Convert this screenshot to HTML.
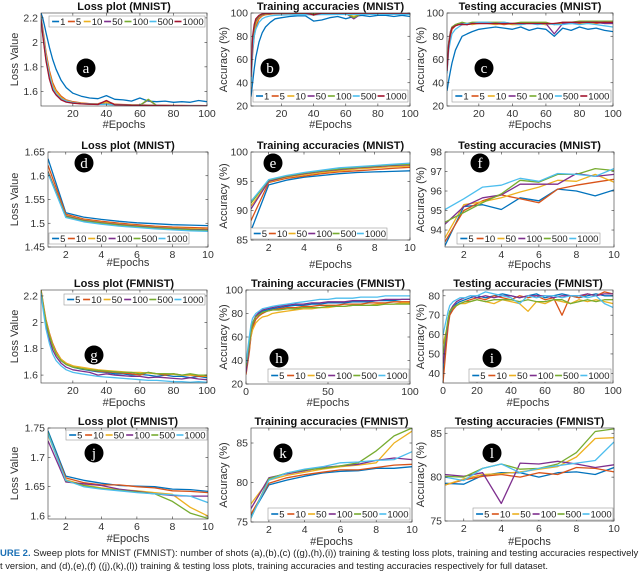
<!DOCTYPE html>
<html><head><meta charset="utf-8">
<style>
html,body{margin:0;padding:0;background:#fff;width:640px;height:573px;overflow:hidden}
svg{display:block}
.t{font-family:"Liberation Sans Narrow","Liberation Sans",sans-serif}
</style></head>
<body>
<svg id="fig" width="640" height="573" viewBox="0 0 640 573">
<text class="t" x="0" y="556" font-size="9.6" fill="#222" textLength="652" lengthAdjust="spacingAndGlyphs"><tspan fill="#1a6fb5" font-weight="bold">URE 2.</tspan>  Sweep plots for MNIST (FMNIST): number of shots (a),(b),(c) ((g),(h),(i)) training &amp; testing loss plots, training and testing accuracies respectively for</text>
<text class="t" x="0" y="569" font-size="9.6" fill="#222" textLength="548" lengthAdjust="spacingAndGlyphs">t version, and (d),(e),(f) ((j),(k),(l)) training &amp; testing loss plots, training accuracies and testing accuracies respectively for full dataset.</text>
</svg>
<script>
// ---- shared data ----
const colors7 = ["#0072BD","#D95319","#EDB120","#7E2F8E","#77AC30","#4DBEEE","#A2142F"];
const labels7 = ["1","5","10","50","100","500","1000"];
const labels6 = ["5","10","50","100","500","1000"];
const epochs100 = [1,2,3,4,6,8,10,13,16,20,25,30,35,40,45,50,55,60,65,70,75,80,85,90,95,100];
const epochs100z = [0,2,3,4,6,8,10,13,16,20,25,30,35,40,45,50,55,60,65,70,75,80,85,90,95,100];
const epochs10 = [1,2,3,4,5,6,7,8,9,10];

// a: loss MNIST
const aSeries = [
[2.24,2.2,2.14,2.08,1.96,1.86,1.78,1.69,1.63,1.585,1.56,1.545,1.54,1.565,1.535,1.53,1.52,1.545,1.52,1.515,1.52,1.51,1.515,1.51,1.525,1.515],
[2.22,2.12,2.02,1.92,1.77,1.67,1.61,1.56,1.53,1.515,1.505,1.5,1.498,1.52,1.495,1.492,1.49,1.49,1.488,1.487,1.486,1.485,1.485,1.484,1.484,1.483],
[2.21,2.1,2.0,1.9,1.75,1.65,1.6,1.55,1.525,1.51,1.502,1.498,1.495,1.51,1.492,1.49,1.489,1.487,1.486,1.485,1.484,1.484,1.483,1.483,1.482,1.482],
[2.2,2.08,1.97,1.87,1.72,1.63,1.58,1.54,1.52,1.507,1.5,1.496,1.494,1.497,1.491,1.489,1.487,1.486,1.53,1.485,1.484,1.483,1.483,1.482,1.482,1.482],
[2.2,2.07,1.96,1.86,1.71,1.62,1.575,1.535,1.515,1.505,1.499,1.495,1.493,1.495,1.49,1.488,1.487,1.486,1.535,1.484,1.483,1.483,1.482,1.482,1.481,1.481],
[2.21,2.09,1.98,1.88,1.73,1.63,1.58,1.54,1.52,1.508,1.5,1.497,1.494,1.493,1.49,1.488,1.487,1.486,1.485,1.484,1.483,1.483,1.482,1.482,1.481,1.481],
[2.19,2.06,1.95,1.85,1.70,1.61,1.57,1.53,1.512,1.503,1.498,1.495,1.492,1.525,1.49,1.488,1.486,1.485,1.484,1.484,1.483,1.482,1.482,1.481,1.481,1.481]];
// b: train acc MNIST
const bSeries = [
[28,40,52,62,75,83,88,92,95,96,97,97.5,97.5,93,94,96,97,95,97,98,97,98,98,97,98,97],
[35,65,80,88,95,97.5,98.5,99,99.5,99.5,99.5,99.5,99.5,98,99.5,99.5,99.5,99.5,99.6,99.6,99.6,99.6,99.6,99.6,99.6,99.6],
[38,70,84,91,96,98,99,99.3,99.5,99.6,99.6,99.6,99.6,99,99.6,99.6,99.6,99.6,97,99.6,99.6,99.6,99.7,99.7,99.7,99.7],
[40,75,87,93,97,98.5,99.2,99.5,99.6,99.6,99.7,99.7,99.7,99.7,99.7,99.7,99.7,99.7,95,99.7,99.7,99.7,99.7,99.7,99.7,99.7],
[42,77,88,94,97.5,99,99.4,99.6,99.7,99.7,99.7,99.7,99.7,99.7,99.7,99.7,99.7,99.7,96,99.7,99.7,99.7,99.7,99.7,99.7,99.7],
[36,68,80,86,92,95,96.5,97.5,98,98.2,98.4,98.5,98.5,98.5,98.6,98.6,98.7,98.7,98.7,98.8,98.8,98.8,98.9,98.9,98.9,98.9],
[45,80,90,95,98,99.3,99.6,99.7,99.8,99.8,99.8,99.8,99.8,98.5,99.8,99.8,99.8,99.8,99.8,99.8,99.8,99.8,99.8,99.8,99.8,99.8]];
// c: test acc MNIST
const cSeries = [
[33,42,50,57,68,74,80,82,84,86,87,88,87,86,88,85,87,86,80,87,85,88,86,87,85,84],
[50,70,80,86,89,90,91,90,91,91,91.5,91,90,91,91,91,91,90,91,91,92,91,92,91,92,91],
[52,72,82,87,90,91,91,91,90,91,91,90,91,90,90,91,91,90,91,91,91,92,91,92,91,91],
[55,75,84,88,90,91,91,90,91,91,91,91,91,91,91,91,91,91,82,91,91,92,92,92,91,91],
[54,74,83,88,90,91,92,91,92,92,92,92,92,91,92,92,92,92,90,92,92,93,93,93,93,93],
[48,68,76,82,86,88,90,91,91,92,92,91,92,91,90,91,90,91,90,90,91,90,91,90,89,88],
[50,72,82,87,89,90,90,90,91,91,91,91,91,91,91,91,91,91,91,92,92,92,92,92,92,92]];
// d
const dSeries = [
[1.636,1.522,1.513,1.508,1.504,1.501,1.499,1.497,1.496,1.495],
[1.622,1.519,1.509,1.504,1.5,1.497,1.494,1.492,1.491,1.49],
[1.61,1.516,1.507,1.502,1.498,1.495,1.492,1.49,1.489,1.487],
[1.608,1.515,1.506,1.501,1.497,1.494,1.491,1.489,1.487,1.486],
[1.606,1.514,1.505,1.5,1.496,1.493,1.49,1.488,1.486,1.485],
[1.605,1.512,1.503,1.498,1.494,1.491,1.488,1.486,1.484,1.483]];
// e
const eSeries = [
[86.6,94.4,95.2,95.7,96.0,96.3,96.5,96.6,96.7,96.8],
[88.3,94.8,95.5,95.9,96.3,96.6,96.8,97.0,97.2,97.4],
[90.8,94.9,95.7,96.1,96.5,96.8,97.1,97.3,97.5,97.6],
[90.3,95.0,95.8,96.3,96.7,97.0,97.3,97.5,97.7,97.8],
[91.3,95.2,95.9,96.4,96.8,97.1,97.4,97.6,97.8,97.9],
[91.6,95.3,96.0,96.5,96.9,97.3,97.5,97.7,97.9,98.1]];
// f
const fSeries = [
[93.2,95.2,95.3,95.05,95.65,95.5,96.1,96.0,95.75,96.05],
[93.4,95.0,95.5,95.8,95.6,95.4,96.1,96.3,96.45,96.6],
[93.6,95.3,95.45,95.65,95.95,96.2,96.55,96.5,96.85,96.45],
[94.3,95.2,95.65,95.8,96.35,96.35,96.35,96.9,96.75,96.85],
[94.4,94.9,95.4,95.85,96.55,96.45,96.85,96.85,97.15,97.05],
[95.05,95.6,96.2,96.3,96.65,96.5,96.9,96.85,96.75,97.15]];
// g
const gSeries = [
[2.24,2.15,2.07,2.0,1.9,1.82,1.77,1.71,1.68,1.66,1.645,1.635,1.625,1.62,1.61,1.61,1.6,1.605,1.6,1.59,1.6,1.59,1.59,1.58,1.59,1.58],
[2.25,2.17,2.09,2.02,1.92,1.84,1.78,1.72,1.69,1.67,1.65,1.64,1.63,1.625,1.62,1.615,1.61,1.6,1.62,1.61,1.6,1.61,1.6,1.6,1.59,1.59],
[2.24,2.16,2.08,2.01,1.91,1.83,1.77,1.72,1.69,1.67,1.66,1.65,1.64,1.635,1.63,1.625,1.62,1.62,1.615,1.61,1.61,1.605,1.6,1.6,1.6,1.59],
[2.23,2.14,2.05,1.98,1.87,1.79,1.74,1.69,1.66,1.64,1.63,1.62,1.6,1.61,1.6,1.595,1.59,1.59,1.58,1.585,1.58,1.575,1.57,1.58,1.57,1.565],
[2.24,2.15,2.07,2.0,1.9,1.82,1.76,1.71,1.68,1.66,1.65,1.64,1.635,1.63,1.625,1.62,1.62,1.61,1.62,1.61,1.61,1.61,1.6,1.61,1.6,1.6],
[2.22,2.12,2.03,1.95,1.84,1.76,1.71,1.67,1.64,1.62,1.61,1.6,1.59,1.585,1.58,1.575,1.57,1.565,1.56,1.56,1.555,1.55,1.55,1.545,1.55,1.545]];
// h
const hSeries = [
[30,50,62,70,77,80,82,83,84,85,86,87,87,88,88,89,89,89,90,90,90,91,91,91,92,92],
[28,47,60,68,75,78,80,82,83,84,85,85,86,86,87,87,87,88,88,88,89,89,89,90,90,90],
[32,50,60,66,72,75,77,78,80,81,82,83,84,84,85,85,86,86,87,87,87,88,88,88,89,89],
[30,52,64,72,78,81,83,84,85,86,87,88,88,89,89,90,90,90,91,91,91,91,92,92,92,92],
[35,55,65,72,77,79,81,82,83,83,84,84,85,85,85,86,86,86,87,87,87,87,88,88,88,88],
[38,60,70,76,80,82,84,85,86,87,88,89,90,91,92,92,93,93,93,94,94,94,95,95,95,95]];
// i
const iSeries = [
[40,58,66,71,74,76,77,78,79,80,79,80,81,80,79,80,81,79,80,81,80,79,80,81,80,80],
[35,55,64,70,73,75,76,77,78,79,78,80,79,78,80,79,80,78,79,70,80,79,81,80,82,81],
[55,62,68,72,74,75,76,76,77,78,77,76,78,77,76,72,77,76,78,77,76,78,77,78,77,76],
[45,60,67,72,75,77,78,79,80,79,80,79,80,80,79,80,80,80,79,80,80,80,81,80,81,81],
[50,62,68,72,74,75,76,77,77,78,77,78,78,78,77,78,77,77,78,78,76,77,78,77,78,78],
[60,68,72,75,77,78,79,79,80,80,82,81,80,79,76,80,79,80,80,79,80,80,79,80,76,74]];
// j
const jSeries = [
[1.745,1.668,1.661,1.656,1.652,1.651,1.65,1.646,1.645,1.642],
[1.74,1.665,1.657,1.653,1.653,1.65,1.648,1.643,1.642,1.64],
[1.738,1.662,1.653,1.648,1.645,1.643,1.64,1.637,1.615,1.6],
[1.728,1.658,1.655,1.652,1.646,1.642,1.638,1.635,1.634,1.634],
[1.742,1.66,1.652,1.647,1.644,1.641,1.638,1.625,1.605,1.596],
[1.74,1.661,1.65,1.646,1.643,1.64,1.638,1.636,1.634,1.623]];
// k
const kSeries = [
[75.8,79.7,80.3,80.8,81.2,81.4,81.5,81.8,81.8,82.0],
[76.0,79.9,80.6,81.0,81.3,81.6,81.6,81.9,82.2,82.3],
[77.3,80.3,80.9,81.3,81.7,82.0,82.2,82.5,85.0,86.5],
[76.7,80.6,81.1,81.5,81.9,82.1,82.3,82.8,83.1,82.9],
[75.5,80.5,81.2,81.6,81.8,82.1,82.5,84.0,85.9,86.9],
[75.5,80.3,81.2,81.7,82.0,82.5,82.6,82.8,82.9,83.9]];
// l
const lSeries = [
[79.3,79.2,80.2,80.5,80.5,80.0,80.5,80.6,80.3,81.1],
[79.1,79.7,80.1,80.3,80.0,80.5,80.3,81.1,81.0,80.6],
[79.1,79.8,80.3,80.4,80.6,80.9,81.2,82.3,84.4,84.5],
[80.3,80.1,80.5,77.0,81.6,81.5,81.8,81.5,81.1,81.4],
[80.1,80.0,81.0,81.5,80.9,81.0,81.5,82.8,85.2,85.5],
[80.0,79.6,81.0,81.5,80.5,81.0,81.3,81.6,81.9,84.0]];

// tick arrays
const ticksX100 = [20,40,60,80,100];
const ticksX100z = [0,20,40,60,80,100];
const ticksXh = [0,50,100];
const ticksX10 = [2,4,6,8,10];
const ticksLossA = [1.6,1.8,2,2.2];
const tickLblLossA = ["1.6","1.8","2","2.2"];
const ticksAcc = [20,40,60,80,100];
const tickLblAcc = ["20","40","60","80","100"];
const ticksD = [1.45,1.5,1.55,1.6,1.65];
const tickLblD = ["1.45","1.5","1.55","1.6","1.65"];
const ticksE = [85,90,95,100];
const ticksF = [94,95,96,97,98];
const ticksI = [40,50,60,70,80];
const ticksJ = [1.6,1.65,1.7,1.75];
const tickLblJ = ["1.6","1.65","1.7","1.75"];
const ticksKL = [75,80,85];

const NS = "http://www.w3.org/2000/svg";
const svg = document.getElementById("fig");
function el(tag, attrs, parent){const e=document.createElementNS(NS,tag);for(const k in attrs)e.setAttribute(k,attrs[k]);(parent||svg).appendChild(e);return e;}

const panels = [
 {id:"a",title:"Loss plot (MNIST)",yl:"Loss Value",L:41,R:207,T:13,B:106,x0:1,x1:100,y0:1.48,y1:2.24,xs:epochs100,ser:aSeries,xt:ticksX100,yt:ticksLossA,ytl:tickLblLossA,lab:labels7,col:colors7,lg:[49,16,205,27],cl:[86,68],ylx:18,xlY:128},
 {id:"b",title:"Training accuracies (MNIST)",yl:"Accuracy (%)",L:251,R:410,T:13,B:106,x0:1,x1:100,y0:20,y1:100,xs:epochs100,ser:bSeries,xt:ticksX100,yt:ticksAcc,ytl:tickLblAcc,lab:labels7,col:colors7,lg:[253,90,408,102],cl:[270,68],ylx:227,xlY:128},
 {id:"c",title:"Testing accuracies (MNIST)",yl:"Accuracy (%)",L:447,R:613,T:13,B:106,x0:1,x1:100,y0:20,y1:100,xs:epochs100,ser:cSeries,xt:ticksX100,yt:ticksAcc,ytl:tickLblAcc,lab:labels7,col:colors7,lg:[452,90,611,102],cl:[484,68],ylx:424,xlY:128},
 {id:"d",title:"Loss plot (MNIST)",yl:"Loss Value",L:48,R:208,T:152,B:247,x0:1,x1:10,y0:1.45,y1:1.65,xs:epochs10,ser:dSeries,xt:ticksX10,yt:ticksD,ytl:tickLblD,lab:labels6,col:colors7,lg:[49,233,189,244],cl:[84,163],ylx:18,xlY:266},
 {id:"e",title:"Training accuracies (MNIST)",yl:"Accuracy (%)",L:251,R:410,T:152,B:240,x0:1,x1:10,y0:85,y1:100,xs:epochs10,ser:eSeries,xt:ticksX10,yt:ticksE,ytl:null,lab:labels6,col:colors7,lg:[251,228,387,239],cl:[273,163],ylx:227,xlY:268},
 {id:"f",title:"Testing accuracies (MNIST)",yl:"Accuracy (%)",L:445,R:614,T:152,B:247,x0:1,x1:10,y0:93.13,y1:98,xs:epochs10,ser:fSeries,xt:ticksX10,yt:ticksF,ytl:null,lab:labels6,col:colors7,lg:[457,233,600,244],cl:[480,163],ylx:424,xlY:268},
 {id:"g",title:"Loss plot (FMNIST)",yl:"Loss Value",L:41,R:207,T:290,B:383,x0:1,x1:100,y0:1.54,y1:2.245,xs:epochs100,ser:gSeries,xt:ticksX100,yt:ticksLossA,ytl:tickLblLossA,lab:labels6,col:colors7,lg:[64,294,205,305],cl:[94,355],ylx:18,xlY:406},
 {id:"h",title:"Training accuracies (FMNIST)",yl:"Accuracy (%)",L:246,R:410,T:290,B:384,x0:0,x1:100,y0:20,y1:100,xs:epochs100z,ser:hSeries,xt:ticksXh,yt:ticksAcc,ytl:tickLblAcc,lab:labels6,col:colors7,lg:[268,369,409,382],cl:[279,358],ylx:227,xlY:406},
 {id:"i",title:"Testing accuracies (FMNIST)",yl:"Accuracy (%)",L:443,R:613,T:290,B:383,x0:0,x1:100,y0:35,y1:83,xs:epochs100z,ser:iSeries,xt:ticksX100z,yt:ticksI,ytl:null,lab:labels6,col:colors7,lg:[469,369,611,382],cl:[492,358],ylx:424,xlY:406},
 {id:"j",title:"Loss plot (FMNIST)",yl:"Loss Value",L:48,R:208,T:428,B:519,x0:1,x1:10,y0:1.595,y1:1.75,xs:epochs10,ser:jSeries,xt:ticksX10,yt:ticksJ,ytl:tickLblJ,lab:labels6,col:colors7,lg:[66,430,207,440],cl:[94,453],ylx:18,xlY:542},
 {id:"k",title:"Training accuracies (FMNIST)",yl:"Accuracy (%)",L:251,R:412,T:428,B:522,x0:1,x1:10,y0:75,y1:86.9,xs:epochs10,ser:kSeries,xt:ticksX10,yt:ticksKL,ytl:null,lab:labels6,col:colors7,lg:[268,508,410,520],cl:[283,453],ylx:227,xlY:545},
 {id:"l",title:"Testing accuracies (FMNIST)",yl:"Accuracy (%)",L:445,R:614,T:428,B:521,x0:1,x1:10,y0:75,y1:85.6,xs:epochs10,ser:lSeries,xt:ticksX10,yt:ticksKL,ytl:null,lab:labels6,col:colors7,lg:[473,508,613,520],cl:[492,453],ylx:424,xlY:545}
];

const FONT='"Liberation Sans Narrow","Liberation Sans",sans-serif';
panels.forEach(p=>{
  const g=el("g",{});
  
  
  const sx=v=>p.L+(v-p.x0)/(p.x1-p.x0)*(p.R-p.L);
  const sy=v=>p.B-(v-p.y0)/(p.y1-p.y0)*(p.B-p.T);
  const cp=el("clipPath",{id:"clip"+p.id},g);
  el("rect",{x:p.L,y:p.T,width:p.R-p.L,height:p.B-p.T},cp);
  const tt=el("text",{x:(p.L+p.R)/2,y:p.T-3,"text-anchor":"middle","font-size":"11","font-weight":"bold","font-family":FONT,fill:"#111"},g);
  tt.textContent=p.title;
  
  
  p.ser.forEach((s,si)=>{
    const d=s.map((v,k)=>(k?"L":"M")+sx(p.xs[k]).toFixed(1)+","+sy(v).toFixed(1)).join("");
    const path=el("path",{d:d,fill:"none",stroke:p.col[si],"stroke-width":"1.3","stroke-linejoin":"round","clip-path":"url(#clip"+p.id+")"},g);
    
    
  });
  const bx=el("rect",{x:p.L,y:p.T,width:p.R-p.L,height:p.B-p.T,fill:"none",stroke:"#333","stroke-width":"0.6"},g);
  
  
  p.xt.forEach(v=>{
    const x=sx(v);
    el("line",{x1:x,x2:x,y1:p.B,y2:p.B-2.5,stroke:"#333","stroke-width":"0.6"},g);
    el("line",{x1:x,x2:x,y1:p.T,y2:p.T+2.5,stroke:"#333","stroke-width":"0.6"},g);
    const t=el("text",{x:x,y:p.B+11,"text-anchor":"middle","font-size":"10.5","font-family":FONT,fill:"#333"},g);
    t.textContent=String(v);
    
    
  });
  p.yt.forEach((v,k)=>{
    const y=sy(v);
    el("line",{x1:p.L,x2:p.L+2.5,y1:y,y2:y,stroke:"#333","stroke-width":"0.6"},g);
    el("line",{x1:p.R,x2:p.R-2.5,y1:y,y2:y,stroke:"#333","stroke-width":"0.6"},g);
    const t=el("text",{x:p.L-3,y:y+3.5,"text-anchor":"end","font-size":"10.5","font-family":FONT,fill:"#333"},g);
    t.textContent=p.ytl?p.ytl[k]:String(v);
    
    
  });
  const xl=el("text",{x:(p.L+p.R)/2,y:p.xlY,"text-anchor":"middle","font-size":"11","font-family":FONT,fill:"#333"},g);
  xl.textContent="#Epochs";
  
  
  const yc=(p.T+p.B)/2;
  const yl=el("text",{x:p.ylx,y:yc,"text-anchor":"middle","font-size":"11","font-family":FONT,fill:"#333",transform:"rotate(-90 "+p.ylx+" "+yc+")"},g);
  yl.textContent=p.yl;
  
  
  const [lx0,ly0,lx1,ly1]=p.lg;
  const lgG=el("g",{},g);
  
  
  el("rect",{x:lx0,y:ly0,width:lx1-lx0,height:ly1-ly0,fill:"#fff",stroke:"#999","stroke-width":"0.6"},lgG);
  const n=p.lab.length, lens=p.lab.map(s=>s.length*4.6+9), tot=lens.reduce((a,b)=>a+b,0);
  const gap=(lx1-lx0-4-tot)/n;
  let cx=lx0+2+gap/2; const cy=(ly0+ly1)/2;
  p.lab.forEach((s,si)=>{
    const ln=el("line",{x1:cx,x2:cx+7,y1:cy,y2:cy,stroke:p.col[si],"stroke-width":"1.6"},lgG);
    
    
    const t=el("text",{x:cx+8,y:cy+3.4,"font-size":"9.5","font-family":FONT,fill:"#222"},lgG);
    t.textContent=s;
    
    
    cx+=lens[si]+gap;
  });
  const c=el("circle",{cx:p.cl[0],cy:p.cl[1],r:"9.5",fill:"#000"},g);
  
  
  const ct=el("text",{x:p.cl[0],y:p.cl[1]+5,"text-anchor":"middle","font-size":"15","font-family":'"Liberation Serif",serif',fill:"#fff"},g);
  ct.textContent=p.id;
  
  
});
</script>
</body></html>
